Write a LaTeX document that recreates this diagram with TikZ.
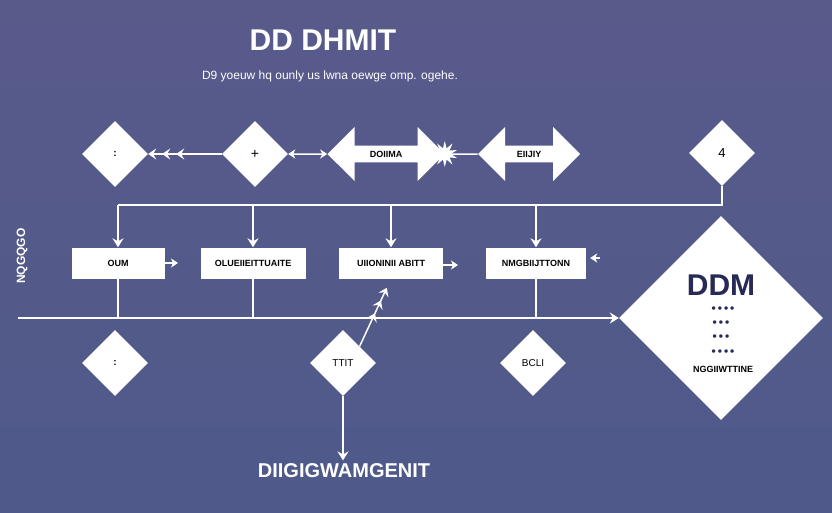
\documentclass[tikz,border=0pt]{standalone}
\usepackage{fontspec}
\setmainfont{Liberation Sans}
\usetikzlibrary{shapes.geometric,shapes.arrows,arrows.meta}
\definecolor{bgtop}{RGB}{88,90,138}
\definecolor{bgbot}{RGB}{79,90,138}
\definecolor{navy}{RGB}{40,42,86}

\begin{document}
\begin{tikzpicture}[x=1pt,y=-1pt,
  dia/.style={diamond,aspect=1,fill=white,inner sep=0pt,minimum size=66pt,font=\fontsize{10}{12}\selectfont},
  box/.style={rectangle,fill=white,inner sep=0pt,minimum height=31pt,font=\bfseries\fontsize{9}{11}\selectfont},
  dbl/.style={double arrow,fill=white,double arrow head extend=12pt,minimum height=117pt,minimum width=54pt,inner sep=2pt,font=\bfseries\fontsize{9}{11}\selectfont},
  dots/.style={text=navy,font=\bfseries\fontsize{12}{13}\selectfont},
  wire/.style={draw=white,line width=1.5pt},
  arr/.style={wire,-{Stealth[length=9pt,width=11pt,inset=3pt]}},
  sarr/.style={wire,-{Stealth[length=7pt,width=9pt,inset=2pt]}},
  manytips/.style={wire,-{Stealth[length=8pt,width=11pt,inset=3pt,sep=6pt]Stealth[length=8pt,width=11pt,inset=3pt,sep=6pt]Stealth[length=8pt,width=11pt,inset=3pt]}}]
\shade[top color=bgtop,bottom color=bgbot] (0,0) rectangle (832,512);
\node[text=white,font=\bfseries\fontsize{30}{36}\selectfont] (title) at (323,40) {DD DHMIT};
\node[text=white,font=\fontsize{12}{14}\selectfont] (sub) at (330,76) {D9 yoeuw hq ounly us lwna oewge omp. ogehe.};
\node[dia] (d1) at (115,154) {\textbf{:}};
\node[dia,font=\fontsize{14}{16}\selectfont] (d2) at (255,154) {+};
\node[dbl] (ma) at (386,154) {DOIIMA};
\node[star,star points=10,star point ratio=2.2,fill=white,minimum size=26pt,inner sep=0pt] (burst) at (ma.east) {};
\node[dbl,minimum height=102pt] (mb) at (529,154) {EIIJIY};
\node[dia,font=\fontsize{13}{15}\selectfont] (d4) at (722,153) {4};
\draw[manytips] (d2.west) -- (d1.east);
\draw[wire,{Stealth[length=7pt,width=9pt,inset=2pt]}-{Stealth[length=7pt,width=9pt,inset=2pt]}] (d2.east) -- (ma.west);
\draw[wire] (burst.east) -- (mb.west);
\coordinate (busl) at (118,205);
\node[box,minimum width=93pt] (b1) at (118,263) {OUM};
\node[box,minimum width=105pt] (b2) at (253,263) {OLUEIIEITTUAITE};
\node[box,minimum width=104pt] (b3) at (391,263) {UIIONINII ABITT};
\node[box,minimum width=100pt] (b4) at (536,263) {NMGBIIJTTONN};
\draw[wire] (d4.south) |- (busl);
\draw[arr] (busl) -- (b1.north);
\draw[arr] (b2.north |- busl) -- (b2.north);
\draw[arr] (b3.north |- busl) -- (b3.north);
\draw[arr] (b4.north |- busl) -- (b4.north);
\coordinate (o1) at (178,263);
\coordinate (o3) at (458,265);
\coordinate (o4) at (600,258);
\draw[sarr] (b1.east) -- (o1);
\draw[sarr] (b3.east |- o3) -- (o3);
\draw[sarr,shorten >=4pt] (o4) -- (b4.east |- o4);
\node[dia,minimum size=204pt] (big) at (721,318) {};
\coordinate (lbl) at (18,318);
\draw[arr] (lbl) -- (big.west);
\draw[wire] (b1.south) -- (b1.south |- lbl);
\draw[wire] (b2.south) -- (b2.south |- lbl);
\draw[wire] (b4.south) -- (b4.south |- lbl);
\node[text=navy,font=\bfseries\fontsize{30}{36}\selectfont] (ddm) at (721,285) {DDM};
\node[dots] (dots1) at (723,310) {•\,•\,•\,•};
\node[dots] (dots2) at (721,324) {•\,•\,•};
\node[dots] (dots3) at (721,338) {•\,•\,•};
\node[dots] (dots4) at (723,353) {•\,•\,•\,•};
\node[font=\bfseries\fontsize{9}{11}\selectfont] (ngg) at (723,369) {NGGIIWTTINE};
\node[text=white,rotate=90,font=\bfseries\fontsize{12}{14}\selectfont] (side) at (22,256) {NQGQGO};
\node[dia] (e1) at (115,363) {\textbf{:}};
\node[dia] (e2) at (343,363) {TTIT};
\node[dia] (e3) at (533,363) {BCLI};
\node[text=white,font=\bfseries\fontsize{20}{24}\selectfont] (dig) at (344,471) {DIIGIGWAMGENIT};
\draw[arr] (e2.south) -- (e2.south |- dig.north);
\draw[manytips,shorten >=10pt] (e2.north east) -- (b3.south);
\end{tikzpicture}
\end{document}
